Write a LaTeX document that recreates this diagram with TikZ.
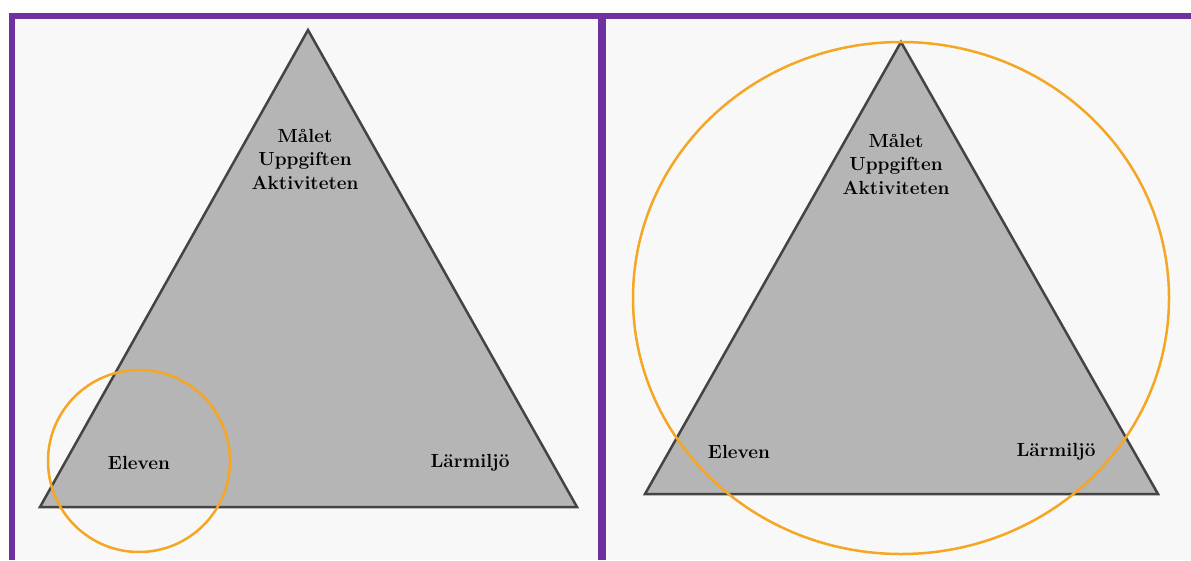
\documentclass[tikz,border=0pt]{standalone}
\usepackage{tikz}
\definecolor{panelbg}{HTML}{F8F8F8}
\definecolor{frame}{HTML}{7030A0}
\definecolor{trifill}{HTML}{B5B5B5}
\definecolor{tristroke}{HTML}{444444}
\definecolor{ring}{HTML}{F5A623}
\tikzset{
  tri/.style={fill=trifill, draw=tristroke, line width=2.5pt, line join=miter},
  ringline/.style={draw=ring, line width=2.5pt},
  framebar/.style={draw=frame, line width=6pt},
  lbl/.style={font=\fontsize{19}{23.5}\selectfont\bfseries, align=center, text=black, inner sep=0pt},
}
\begin{document}
\begin{tikzpicture}[x=1pt,y=-1pt]
\useasboundingbox (0,0) rectangle (1191,560);
\fill[white] (0,0) rectangle (1191,560);
\fill[panelbg] (9,13) rectangle (1191,560);
% frame
\coordinate (tl) at (12,16);
\coordinate (tr) at (1191,16);
\coordinate (bl) at (12,560);
\coordinate (mt) at (602,16);
\coordinate (mb) at (602,560);
\draw[framebar] (bl) -- (tl) -- (tr);
\draw[framebar, line width=8pt] (mt) -- (mb);
% left panel
\coordinate (la) at (308,30);
\coordinate (lb) at (40,507);
\coordinate (lc) at (577,507);
\draw[tri] (la) -- (lb) -- (lc) -- cycle;
\node[lbl] (lgoal) at (305,159) {Målet\\Uppgiften\\Aktiviteten};
\node[lbl] (lstud) at (139,463) {Eleven};
\node[lbl] (lenv) at (470,463) {Lärmiljö};
\coordinate (lcc) at (139,461);
\draw[ringline] (lcc) circle[radius=91];
% right panel
\coordinate (ra) at (901,42);
\coordinate (rb) at (645,494);
\coordinate (rc) at (1158,494);
\draw[tri] (ra) -- (rb) -- (rc) -- cycle;
\node[lbl] (rgoal) at (896,164) {Målet\\Uppgiften\\Aktiviteten};
\node[lbl] (rstud) at (739,452) {Eleven};
\node[lbl] (renv) at (1056,452) {Lärmiljö};
\coordinate (rcc) at (901,298);
\draw[ringline] (rcc) ellipse[x radius=268, y radius=256];
\end{tikzpicture}
\end{document}
